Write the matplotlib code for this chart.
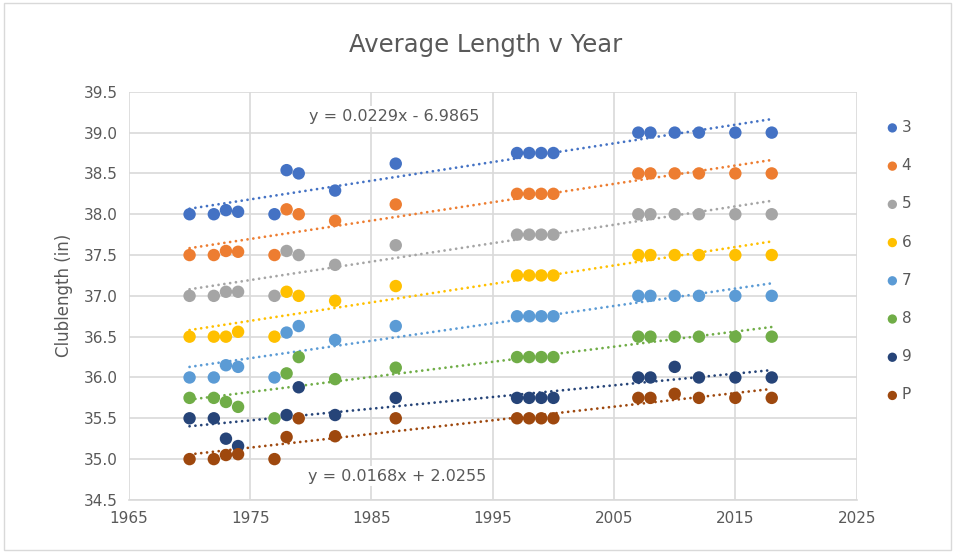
import numpy as np
import matplotlib.pyplot as plt

years = [1970, 1972, 1973, 1974, 1977, 1978, 1979, 1982, 1987,
         1997, 1998, 1999, 2000, 2007, 2008, 2010, 2012, 2015, 2018]
labels = ['3', '4', '5', '6', '7', '8', '9', 'P']
colors = ['#4472C4', '#ED7D31', '#A5A5A5', '#FFC000',
          '#5B9BD5', '#70AD47', '#264478', '#9E480E']

club_3 = [38.0, 38.0, 38.05, 38.03, 38.0, 38.54, 38.5, 38.29, 38.62,
          38.75, 38.75, 38.75, 38.75, 39.0, 39.0, 39.0, 39.0, 39.0, 39.0]
club_4 = [37.5, 37.5, 37.55, 37.54, 37.5, 38.06, 38.0, 37.92, 38.12,
          38.25, 38.25, 38.25, 38.25, 38.5, 38.5, 38.5, 38.5, 38.5, 38.5]
club_5 = [37.0, 37.0, 37.05, 37.05, 37.0, 37.55, 37.5, 37.38, 37.62,
          37.75, 37.75, 37.75, 37.75, 38.0, 38.0, 38.0, 38.0, 38.0, 38.0]
club_6 = [36.5, 36.5, 36.5, 36.56, 36.5, 37.05, 37.0, 36.94, 37.12,
          37.25, 37.25, 37.25, 37.25, 37.5, 37.5, 37.5, 37.5, 37.5, 37.5]
club_7 = [36.0, 36.0, 36.15, 36.13, 36.0, 36.55, 36.63, 36.46, 36.63,
          36.75, 36.75, 36.75, 36.75, 37.0, 37.0, 37.0, 37.0, 37.0, 37.0]
club_8 = [35.75, 35.75, 35.7, 35.64, 35.5, 36.05, 36.25, 35.98, 36.12,
          36.25, 36.25, 36.25, 36.25, 36.5, 36.5, 36.5, 36.5, 36.5, 36.5]
club_9 = [35.5, 35.5, 35.25, 35.16, np.nan, 35.54, 35.88, 35.54, 35.75,
          35.75, 35.75, 35.75, 35.75, 36.0, 36.0, 36.13, 36.0, 36.0, 36.0]
club_p = [35.0, 35.0, 35.05, 35.06, 35.0, 35.27, 35.5, 35.28, 35.5,
          35.5, 35.5, 35.5, 35.5, 35.75, 35.75, 35.8, 35.75, 35.75, 35.75]
series = [club_3, club_4, club_5, club_6, club_7, club_8, club_9, club_p]

eq_top = 'y = 0.0229x - 6.9865'
eq_bottom = 'y = 0.0168x + 2.0255'

txt = '#595959'
grid = '#D9D9D9'

fig = plt.figure(figsize=(9.55, 5.53), dpi=100)
ax = fig.add_axes([0.135, 0.096, 0.762, 0.738])

x = np.array(years, dtype=float)
handles = []
for vals, c, lab in zip(series, colors, labels):
    y = np.array(vals, dtype=float)
    ok = ~np.isnan(y)
    m, b = np.polyfit(x[ok], y[ok], 1)
    xx = np.array([x[ok].min(), x[ok].max()])
    # dotted linear trendline, excel "round dot" look
    ax.plot(xx, m * xx + b, color=c, lw=2.0, linestyle=(0, (0.01, 2.1)),
            dash_capstyle='round', zorder=2)
    h = ax.scatter(x, y, s=80, color=c, edgecolors='none', zorder=3, label=lab)
    handles.append(h)

ax.set_xlim(1965, 2025)
ax.set_ylim(34.5, 39.5)
ax.set_xticks(np.arange(1965, 2026, 10))
ax.set_yticks(np.arange(34.5, 39.51, 0.5))
ax.yaxis.set_major_formatter(plt.FormatStrFormatter('%.1f'))
ax.grid(True, color=grid, lw=1.2, zorder=0)
ax.set_axisbelow(True)
for s in ['top', 'right', 'left']:
    ax.spines[s].set_visible(False)
ax.spines['bottom'].set_color(grid)
ax.spines['bottom'].set_linewidth(1.2)
ax.tick_params(length=0, labelsize=11, colors=txt, pad=8)

ax.set_ylabel('Clublength (in)', fontsize=12, color=txt, labelpad=8)
fig.text(0.508, 0.918, 'Average Length v Year', ha='center', va='center',
         fontsize=17.5, color=txt)

ax.text(1986.9, 39.2, eq_top, ha='center', va='center', fontsize=11.5,
        color=txt, bbox=dict(facecolor='white', edgecolor='none', pad=2),
        zorder=4)
ax.text(1987.1, 34.79, eq_bottom, ha='center', va='center', fontsize=11.5,
        color=txt, bbox=dict(facecolor='white', edgecolor='none', pad=2),
        zorder=4)

fig.legend(handles=handles, loc='upper left', bbox_to_anchor=(0.912, 0.808),
           frameon=False, fontsize=11, labelcolor=txt, handletextpad=0.1,
           labelspacing=1.52, handlelength=1.0, markerscale=0.75)

fig.patches.append(plt.Rectangle((0.004, 0.006), 0.992, 0.988,
                                 transform=fig.transFigure, fill=False,
                                 edgecolor=grid, lw=1))

fig.savefig('out.png', dpi=100)
